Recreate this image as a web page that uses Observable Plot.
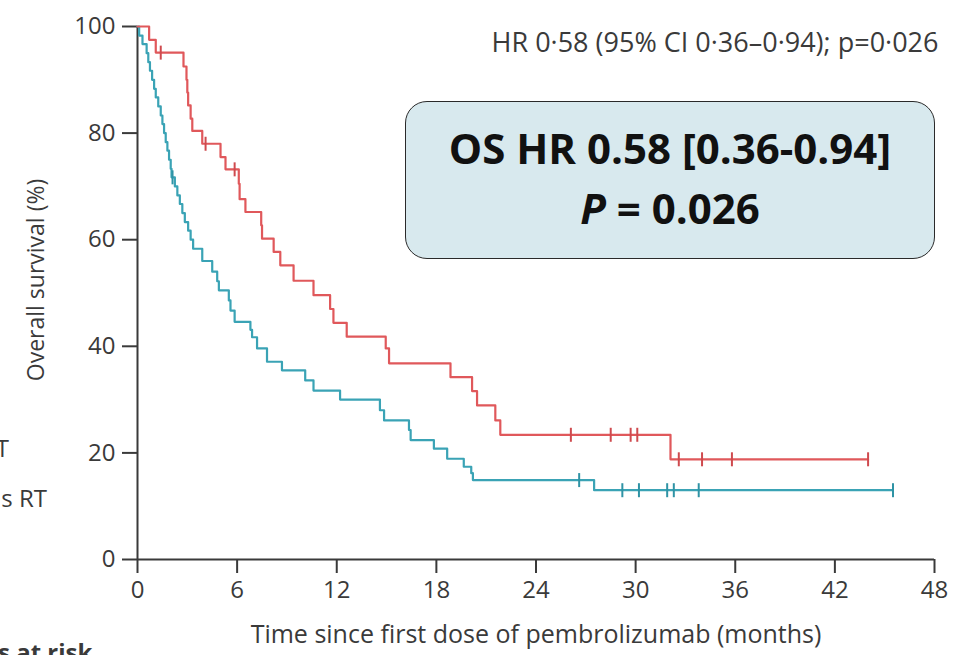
<!DOCTYPE html>
<html>
<head>
<meta charset="utf-8">
<script src="https://cdn.jsdelivr.net/npm/d3@7"></script>
<script src="https://cdn.jsdelivr.net/npm/@observablehq/plot@0.6"></script>
<style>
  html, body { margin: 0; padding: 0; background: #fff; }
  #wrap { position: relative; width: 966px; height: 655px; overflow: hidden; background: #fff;
          font-family: "Open Sans", sans-serif; color: #3a3a3a; }
  #wrap svg { position: absolute; left: 0; top: 0; }
  .cut { position: absolute; font-size: 24px; line-height: 24px; white-space: nowrap; }
  #ylab { position: absolute; left: 35px; top: 280px; font-size: 23px; line-height: 23px; white-space: nowrap;
          transform: translate(-50%, -50%) rotate(-90deg); }
  #hrbox { position: absolute; left: 405px; top: 101px; width: 530px; height: 158px;
           border: 1.6px solid #2a2a2a; border-radius: 22px; background: #d8e9ee;
           text-align: center; font-weight: 700; font-size: 42px; line-height: 60px;
           padding-top: 16px; box-sizing: border-box; color: #111; }
</style>
</head>
<body>
<div id="wrap"></div>
<script>
// Kaplan–Meier overall survival: pembrolizumab with vs without prior radiotherapy
const xTicks = [0, 6, 12, 18, 24, 30, 36, 42, 48];
const yTicks = [0, 20, 40, 60, 80, 100];

// Step points (months, % surviving) – previous RT group
const redTime = [0, 0.70, 1.10, 2.77, 2.95, 3.00, 3.05, 3.20, 3.30, 3.90, 5.00, 5.30, 6.10, 6.15, 6.50, 7.45, 7.50, 8.20, 8.60, 9.40, 10.60, 11.60, 11.80, 12.60, 14.95, 15.15, 18.85, 20.15, 20.45, 21.55, 21.85, 32.10, 44.0];
const redSurv = [100, 97.5, 95.1, 92.5, 90.0, 87.6, 85.2, 82.7, 80.4, 78.0, 75.5, 73.2, 70.5, 67.6, 65.2, 62.7, 60.2, 57.7, 55.2, 52.3, 49.6, 47.0, 44.4, 41.8, 39.6, 36.8, 34.2, 31.6, 28.9, 26.1, 23.4, 18.8, 18.8];
const redCensorTime = [1.40, 4.10, 5.85, 26.1, 28.5, 29.7, 30.1, 32.6, 34.0, 35.8, 44.0];
const redCensorSurv = [95.1, 78.0, 73.2, 23.4, 23.4, 23.4, 23.4, 18.8, 18.8, 18.8, 18.8];

// Step points – no previous RT group
const blueTime = [0, 0.10, 0.30, 0.55, 0.65, 0.75, 0.88, 1.00, 1.10, 1.25, 1.40, 1.50, 1.60, 1.70, 1.80, 1.90, 2.00, 2.05, 2.25, 2.40, 2.55, 2.70, 2.85, 3.05, 3.20, 3.35, 3.90, 4.50, 4.80, 4.90, 5.50, 5.60, 5.85, 6.80, 6.90, 7.20, 7.80, 8.70, 10.10, 10.60, 12.20, 14.60, 14.85, 16.35, 16.45, 17.85, 18.65, 19.65, 20.10, 20.20, 27.50, 45.5];
const blueSurv = [100, 98.3, 96.7, 95.0, 93.3, 91.7, 90.0, 88.3, 86.7, 85.0, 83.3, 81.7, 80.0, 78.3, 76.7, 75.0, 73.3, 71.7, 70.0, 68.3, 66.7, 65.0, 63.3, 61.7, 60.0, 58.3, 56.0, 54.0, 52.2, 50.5, 48.6, 46.7, 44.6, 43.1, 41.7, 39.6, 37.1, 35.5, 33.6, 31.7, 30.0, 28.0, 26.1, 24.3, 22.4, 20.8, 18.9, 17.4, 16.2, 14.9, 13.0, 13.0];
const blueCensorTime = [2.11, 26.6, 29.2, 30.2, 31.9, 32.3, 33.8, 45.5];
const blueCensorSurv = [71.7, 14.9, 13.0, 13.0, 13.0, 13.0, 13.0, 13.0];

const redColor = "#e0585b";
const blueColor = "#3aa3b5";

const pts = (ts, ss) => ts.map((t, i) => ({t, s: ss[i]}));
const red = pts(redTime, redSurv);
const blue = pts(blueTime, blueSurv);
const redCens = pts(redCensorTime, redCensorSurv);
const blueCens = pts(blueCensorTime, blueCensorSurv);

// vertical censoring tick used as a dot symbol
const censorTick = {
  draw(ctx, size) {
    const r = Math.sqrt(size / Math.PI);
    ctx.moveTo(0, -r);
    ctx.lineTo(0, r);
  }
};

const axisColor = "#3a3a3a";

const chart = Plot.plot({
  width: 966,
  height: 655,
  marginLeft: 137,
  marginRight: 32,
  marginTop: 26,
  marginBottom: 96,
  style: {fontFamily: "'Open Sans', sans-serif", fontSize: "24px", color: axisColor, background: "transparent"},
  x: {domain: [0, 48]},
  y: {domain: [0, 100]},
  marks: [
    Plot.axisX({ticks: xTicks, tickSize: 14, tickPadding: 7, strokeWidth: 2, label: null, fontSize: 24}),
    Plot.axisY({ticks: yTicks, tickSize: 15, tickPadding: 7, strokeWidth: 2, label: null, fontSize: 24}),
    Plot.ruleX([0], {stroke: axisColor, strokeWidth: 2}),
    Plot.ruleY([0], {stroke: axisColor, strokeWidth: 2}),
    Plot.line(blue, {x: "t", y: "s", curve: "step-after", stroke: blueColor, strokeWidth: 2.2}),
    Plot.line(red, {x: "t", y: "s", curve: "step-after", stroke: redColor, strokeWidth: 2.2}),
    Plot.dot(blueCens, {x: "t", y: "s", r: 7, symbol: censorTick, stroke: "#2f93a5", strokeWidth: 2, fill: "none"}),
    Plot.dot(redCens, {x: "t", y: "s", r: 7, symbol: censorTick, stroke: "#cf4a4e", strokeWidth: 2, fill: "none"}),
    Plot.text(["Time since first dose of pembrolizumab (months)"], {frameAnchor: "bottom", dy: 83, fontSize: 25, fill: axisColor}),
    Plot.text(["HR 0·58 (95% CI 0·36–0·94); p=0·026"], {frameAnchor: "top-right", textAnchor: "end", dx: 4, dy: 6, fontSize: 27, fill: axisColor})
  ]
});

const wrap = document.getElementById("wrap");
wrap.appendChild(chart);

// y-axis title
const ylab = document.createElement("span");
ylab.id = "ylab";
ylab.textContent = "Overall survival (%)";
wrap.appendChild(ylab);

// annotation box with the hazard ratio
const box = document.createElement("div");
box.id = "hrbox";
box.innerHTML = "OS HR 0.58 [0.36-0.94]<br><i>P</i> = 0.026";
wrap.appendChild(box);

// group labels and risk-table heading running off the left edge
function cut(text, style, bold) {
  const s = document.createElement("span");
  s.className = "cut";
  s.textContent = text;
  Object.assign(s.style, style);
  if (bold) s.style.fontWeight = "700";
  wrap.appendChild(s);
}
cut("T", {right: "957px", top: "436px"});
cut("us RT", {right: "919px", top: "486px"});
cut("s at risk", {left: "-2px", top: "640px"}, true);
</script>
</body>
</html>
